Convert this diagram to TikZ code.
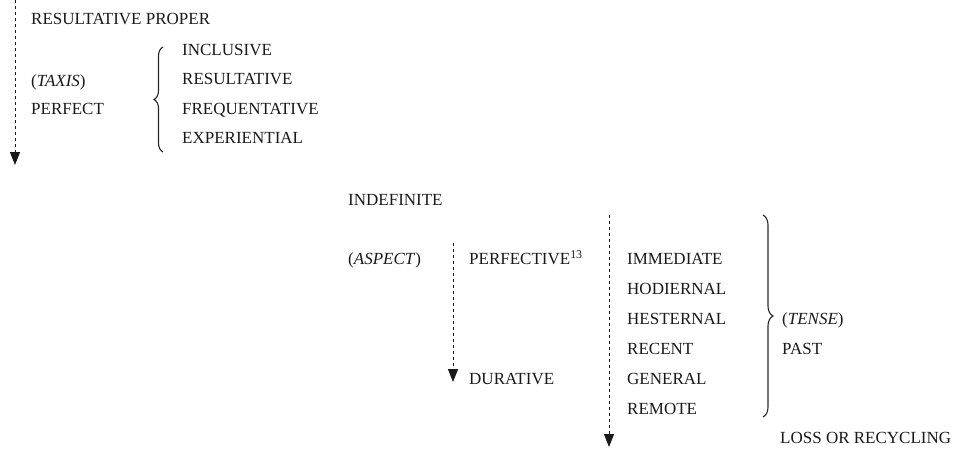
\documentclass[tikz,border=0pt]{standalone}
\usepackage{fontspec}
\setmainfont{Liberation Serif}
\usetikzlibrary{arrows.meta, decorations.pathreplacing}

\begin{document}
\begin{tikzpicture}[x=1pt, y=-1pt,
    term/.style={anchor=base west, inner sep=0pt, text=black!90, font=\fontsize{17}{19}\selectfont},
    drift/.style={draw=black!90, line width=1pt, dash pattern=on 3.4pt off 2.6pt,
      -{Triangle[length=13pt, width=10pt]}},
    grouping/.style={draw=black!85, line width=1.1pt, decorate,
      decoration={brace, amplitude=#1}}]
    \useasboundingbox (0, 0) rectangle (955, 451);
    % taxis
    \coordinate (taxistop) at (15, 0);
    \coordinate (taxisend) at (15, 165);
    \draw [drift] (taxistop) -- (taxisend);
    \node (resprop) [term] at (31, 24) {RESULTATIVE PROPER};
    \node (taxis) [term] at (31, 86) {(\textit{TAXIS})};
    \node (perfect) [term] at (31, 114) {PERFECT};
    \coordinate (perfbot) at (163, 152);
    \coordinate (perftop) at (163, 47);
    \draw [grouping=9pt] (perfbot) -- (perftop);
    \node (inclusive) [term] at (182, 55) {INCLUSIVE};
    \node (resultative) [term] at (182, 84.5) {RESULTATIVE};
    \node (frequentative) [term] at (182, 114) {FREQUENTATIVE};
    \node (experiential) [term] at (182, 143.5) {EXPERIENTIAL};
    % aspect
    \node (indefinite) [term] at (348, 205) {INDEFINITE};
    \node (aspect) [term] at (348, 264.5) {(\textit{ASPECT})};
    \coordinate (aspecttop) at (453, 243);
    \coordinate (aspectend) at (453, 382);
    \draw [drift] (aspecttop) -- (aspectend);
    \node (perfective) [term] at (469, 264.5) {PERFECTIVE\textsuperscript{13}};
    \node (durative) [term] at (469, 384) {DURATIVE};
    % tense
    \coordinate (tensetop) at (609, 215);
    \coordinate (tenseend) at (609, 447);
    \draw [drift] (tensetop) -- (tenseend);
    \node (immediate) [term] at (627, 264.5) {IMMEDIATE};
    \node (hodiernal) [term] at (627, 294.5) {HODIERNAL};
    \node (hesternal) [term] at (627, 324.5) {HESTERNAL};
    \node (recent) [term] at (627, 354.5) {RECENT};
    \node (general) [term] at (627, 384.5) {GENERAL};
    \node (remote) [term] at (627, 414.5) {REMOTE};
    \coordinate (pasttop) at (763, 215);
    \coordinate (pastbot) at (763, 417);
    \draw [grouping=10pt] (pasttop) -- (pastbot);
    \node (tense) [term] at (782, 324.5) {(\textit{TENSE})};
    \node (past) [term] at (782, 354.5) {PAST};
    \node (loss) [term] at (780, 443) {LOSS OR RECYCLING};
  \end{tikzpicture}
\end{document}
